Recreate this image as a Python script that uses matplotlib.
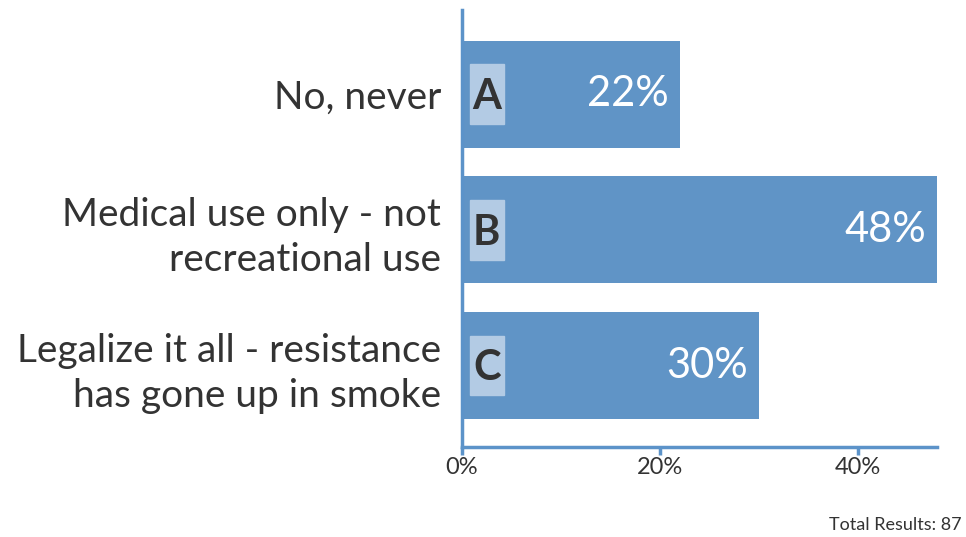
import matplotlib
matplotlib.use("Agg")
import matplotlib.pyplot as plt
from matplotlib.patches import Rectangle

categories = ["No, never", "Medical use only - not\nrecreational use",
              "Legalize it all - resistance\nhas gone up in smoke"]
letters = ["A", "B", "C"]
values = [22, 48, 30]
xticks = [0, 20, 40]
total_text = "Total Results: 87"

bar_color = "#6094c6"
box_color = "#b3cbe4"
axis_color = "#5c93c9"
text_color = "#333333"

plt.rcParams['font.family'] = ['Lato', 'DejaVu Sans']

fig = plt.figure(figsize=(9.66, 5.37), dpi=100)
ax = fig.add_axes([462/966, 1-447/537, (937-462)/966, (447-10)/537])

ypos = list(range(len(values)))
ax.barh(ypos, values, height=0.79, color=bar_color, zorder=2)
ax.set_ylim(len(values) - 1 + 0.6, -0.62)
ax.set_xlim(0, max(values))

for y, v, l in zip(ypos, values, letters):
    ax.add_patch(Rectangle((0.8, y - 0.22), 3.45, 0.44, color=box_color, zorder=3))
    ax.text(2.5, y + 0.02, l, ha='center', va='center', fontsize=30, fontweight='bold',
            color=text_color, zorder=4)
    ax.text(v - 1.1, y, f"{v}%", ha='right', va='center', fontsize=30,
            color='white', zorder=4)

ax.set_yticks(ypos)
ax.set_yticklabels(categories, fontsize=28, color=text_color, linespacing=1.3)
ax.tick_params(axis='y', length=0, pad=15)
ax.set_xticks(xticks)
ax.set_xticklabels([f"{t}%" for t in xticks], fontsize=17, color=text_color)
ax.tick_params(axis='x', length=6, width=2.5, color=axis_color, pad=1)

for s in ['top', 'right']:
    ax.spines[s].set_visible(False)
for s in ['left', 'bottom']:
    ax.spines[s].set_color(axis_color)
    ax.spines[s].set_linewidth(2.5)

fig.text(962/966, 1-525/537, total_text, ha='right', va='center', fontsize=13,
         color=text_color)

fig.savefig("out.png", dpi=100)
